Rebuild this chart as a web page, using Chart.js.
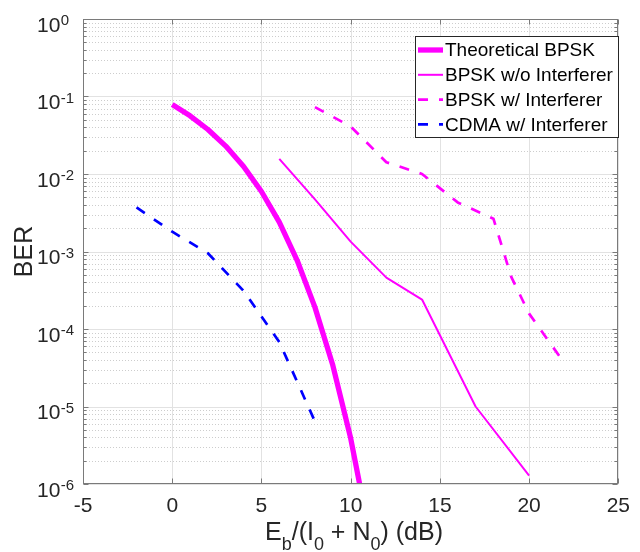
<!DOCTYPE html>
<html>
<head>
<meta charset="utf-8">
<script src="https://cdn.jsdelivr.net/npm/chart.js@4.4.0/dist/chart.umd.min.js"></script>
<style>
html,body{margin:0;padding:0;background:#ffffff;}
#wrap{width:640px;height:552px;position:relative;}
canvas{display:block;}
</style>
</head>
<body>
<div id="wrap"><canvas id="c" width="640" height="552"></canvas></div>
<script>
// ---- data ----
const theoryX   = [0, 1, 2, 3, 4, 5, 6, 7, 8, 9, 10, 11];
const theoryBER = [7.86e-2, 5.63e-2, 3.75e-2, 2.29e-2, 1.25e-2, 5.95e-3, 2.39e-3, 7.7e-4, 1.9e-4, 3.4e-5, 3.9e-6, 2.6e-7];

const noIntX   = [6, 8, 10, 12, 14, 17, 20];
const noIntBER = [1.57e-2, 4.7e-3, 1.34e-3, 4.6e-4, 2.4e-4, 1.0e-5, 1.28e-6];

const bpskIntX   = [8, 10, 12, 14, 16, 18, 19, 20, 22];
const bpskIntBER = [7.3e-2, 4.1e-2, 1.42e-2, 1.0e-2, 4.3e-3, 2.65e-3, 4.7e-4, 1.58e-4, 3.56e-5];

const cdmaX   = [-2, 0, 2, 4, 6, 8];
const cdmaBER = [3.7e-3, 1.8e-3, 9.5e-4, 3.1e-4, 6.8e-5, 6.4e-6];

const seriesNames = ['Theoretical BPSK', 'BPSK w/o Interferer', 'BPSK w/ Interferer', 'CDMA w/ Interferer'];

const xTicks      = [-5, 0, 5, 10, 15, 20, 25];
const xTickLabels = ['-5', '0', '5', '10', '15', '20', '25'];
const yExponents  = [0, -1, -2, -3, -4, -5, -6];
const yTickBase   = '10';

const xTitleParts = [['E', 0], ['b', 1], ['/(I', 0], ['0', 1], [' + N', 0], ['0', 1], [') (dB)', 0]];
const yTitle = 'BER';

// ---- styling ----
const FONT = "'Liberation Sans', Arial, Helvetica, sans-serif";
const TXT = '#262626';
const MAGENTA = '#ff00ff';
const BLUE = '#0000ff';
const DASH = [10, 11];

function pts(xs, ys) { return xs.map((v, i) => ({x: v, y: ys[i]})); }

const styles = [
  {color: MAGENTA, width: 5.3, dash: []},
  {color: MAGENTA, width: 2,   dash: []},
  {color: MAGENTA, width: 2.7, dash: DASH},
  {color: BLUE,    width: 2.7, dash: DASH}
];

const decor = {
  id: 'decor',
  beforeDatasetsDraw(chart) {
    const {ctx, chartArea: a, scales: {x, y}} = chart;
    ctx.save();
    ctx.lineWidth = 1;
    // minor y grid (dotted)
    ctx.strokeStyle = '#cdcdcd';
    ctx.setLineDash([1, 2]);
    for (let e = -6; e < 0; e++) {
      for (let k = 2; k <= 9; k++) {
        const py = Math.round(y.getPixelForValue(k * Math.pow(10, e))) + 0.5;
        ctx.beginPath(); ctx.moveTo(a.left, py); ctx.lineTo(a.right, py); ctx.stroke();
      }
    }
    ctx.setLineDash([]);
    // major grid
    ctx.strokeStyle = '#e2e2e2';
    yExponents.forEach(e => {
      const py = Math.round(y.getPixelForValue(Math.pow(10, e))) + 0.5;
      ctx.beginPath(); ctx.moveTo(a.left, py); ctx.lineTo(a.right, py); ctx.stroke();
    });
    xTicks.forEach(v => {
      const px = Math.round(x.getPixelForValue(v)) + 0.5;
      ctx.beginPath(); ctx.moveTo(px, a.top); ctx.lineTo(px, a.bottom); ctx.stroke();
    });
    ctx.restore();
  },
  afterDraw(chart) {
    const {ctx, chartArea: a, scales: {x, y}} = chart;
    ctx.save();
    // axes box
    ctx.strokeStyle = '#7a7a7a';
    ctx.lineWidth = 1;
    const L = Math.round(a.left) + 0.5, R = Math.round(a.right) - 0.5;
    const T = Math.round(a.top) + 0.5, B = Math.round(a.bottom) - 0.5;
    ctx.strokeRect(L, T, R - L, B - T);
    // ticks
    ctx.beginPath();
    xTicks.forEach(v => {
      const px = Math.round(x.getPixelForValue(v)) + 0.5;
      ctx.moveTo(px, B); ctx.lineTo(px, B - 5);
      ctx.moveTo(px, T); ctx.lineTo(px, T + 5);
    });
    yExponents.forEach(e => {
      const py = Math.round(y.getPixelForValue(Math.pow(10, e))) + 0.5;
      ctx.moveTo(L, py); ctx.lineTo(L + 5, py);
      ctx.moveTo(R, py); ctx.lineTo(R - 5, py);
    });
    for (let e = -6; e < 0; e++) {
      for (let k = 2; k <= 9; k++) {
        const py = Math.round(y.getPixelForValue(k * Math.pow(10, e))) + 0.5;
        ctx.moveTo(L, py); ctx.lineTo(L + 3, py);
        ctx.moveTo(R, py); ctx.lineTo(R - 3, py);
      }
    }
    ctx.stroke();

    // y tick labels 10^e
    ctx.fillStyle = TXT;
    ctx.textAlign = 'left';
    ctx.textBaseline = 'alphabetic';
    yExponents.forEach(e => {
      const py = y.getPixelForValue(Math.pow(10, e));
      ctx.font = '21px ' + FONT;
      const bx = 37;
      ctx.fillText(yTickBase, bx, py + 12.5);
      const bw = ctx.measureText(yTickBase).width;
      ctx.font = '15px ' + FONT;
      ctx.fillText(String(e), bx + bw + 0.5, py + 6);
    });

    // x title with subscripts
    let total = 0;
    xTitleParts.forEach(([t, sub]) => {
      ctx.font = (sub ? '18px ' : '25px ') + FONT;
      total += ctx.measureText(t).width;
    });
    let cx = 354 - total / 2;
    xTitleParts.forEach(([t, sub]) => {
      ctx.font = (sub ? '18px ' : '25px ') + FONT;
      ctx.fillText(t, cx, sub ? 550 : 540);
      cx += ctx.measureText(t).width;
    });

    // y title
    ctx.save();
    ctx.translate(31.5, (a.top + a.bottom) / 2);
    ctx.rotate(-Math.PI / 2);
    ctx.textAlign = 'center';
    ctx.font = '25px ' + FONT;
    ctx.fillText(yTitle, 0, 0);
    ctx.restore();

    // legend
    const lx = 415.5, ly = 36.5, lw = 203, lh = 101;
    ctx.fillStyle = '#ffffff';
    ctx.fillRect(lx, ly, lw, lh);
    ctx.strokeStyle = '#262626';
    ctx.lineWidth = 1;
    ctx.strokeRect(lx, ly, lw, lh);
    ctx.font = '19px ' + FONT;
    ctx.textBaseline = 'middle';
    ctx.textAlign = 'left';
    chart.data.datasets.forEach((ds, i) => {
      const ry = 50 + i * 24.8;
      ctx.save();
      ctx.strokeStyle = ds.borderColor;
      ctx.lineWidth = ds.borderWidth;
      ctx.setLineDash(ds.borderDash || []);
      ctx.beginPath(); ctx.moveTo(418, ry); ctx.lineTo(443, ry); ctx.stroke();
      ctx.restore();
      ctx.fillStyle = '#000000';
      ctx.fillText(ds.label, 445, ry + 1);
    });
    ctx.restore();
  }
};

const seriesX = [theoryX, noIntX, bpskIntX, cdmaX];
const seriesY = [theoryBER, noIntBER, bpskIntBER, cdmaBER];

new Chart(document.getElementById('c'), {
  type: 'line',
  data: {
    datasets: seriesNames.map((name, i) => ({
      label: name,
      data: pts(seriesX[i], seriesY[i]),
      borderColor: styles[i].color,
      backgroundColor: styles[i].color,
      borderWidth: styles[i].width,
      borderDash: styles[i].dash,
      borderJoinStyle: 'round',
      borderCapStyle: 'butt',
      pointRadius: 0,
      fill: false,
      tension: 0,
      clip: 0
    }))
  },
  options: {
    responsive: false,
    animation: false,
    devicePixelRatio: 1,
    layout: {padding: {top: 19, right: 15, left: 0, bottom: 0}},
    plugins: {legend: {display: false}, tooltip: {enabled: false}, title: {display: false}},
    scales: {
      x: {
        type: 'linear', min: -5, max: 25,
        afterBuildTicks: s => { s.ticks = xTicks.map(v => ({value: v})); },
        afterFit: s => { s.height = 68; },
        ticks: {autoSkip: false, maxRotation: 0, minRotation: 0, padding: 10, color: TXT,
                font: {family: FONT, size: 21}, callback: (v, i) => xTickLabels[i]},
        grid: {display: false, drawTicks: false},
        border: {display: false}
      },
      y: {
        type: 'logarithmic', min: 1e-6, max: 1,
        afterBuildTicks: s => { s.ticks = yExponents.map(e => ({value: Math.pow(10, e)})); },
        afterFit: s => { s.width = 83; },
        ticks: {display: false},
        grid: {display: false, drawTicks: false},
        border: {display: false}
      }
    }
  },
  plugins: [decor]
});
</script>
</body>
</html>
